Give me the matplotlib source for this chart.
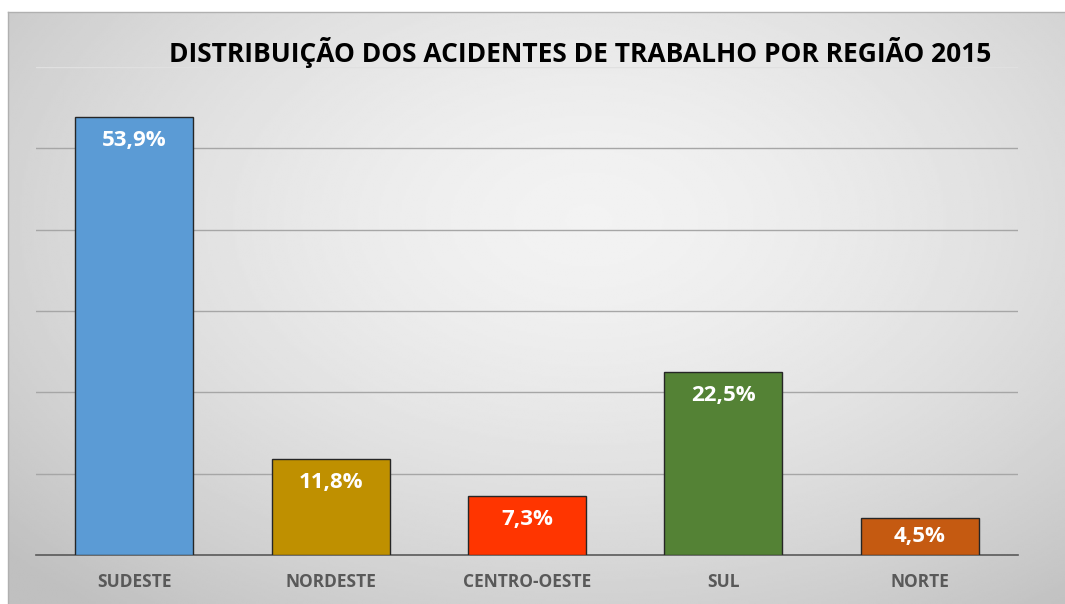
import matplotlib.pyplot as plt
import numpy as np

regions = ["SUDESTE", "NORDESTE", "CENTRO-OESTE", "SUL", "NORTE"]
shares = [53.9, 11.8, 7.3, 22.5, 4.5]
bar_colors = ["#5B9BD5", "#BF9000", "#FF3500", "#548235", "#C55A11"]
value_labels = ["53,9%", "11,8%", "7,3%", "22,5%", "4,5%"]

W, H = 1065, 604
fig = plt.figure(figsize=(W / 100, H / 100), dpi=100)
fig.patch.set_facecolor("white")
plt.rcParams["font.family"] = ["Open Sans", "DejaVu Sans"]

# gradient panel behind the chart
bg = fig.add_axes([8 / W, 0, 1 - 8 / W, 1 - 12 / H])
yy, xx = np.mgrid[0:1:300j, 0:1:500j]
r = np.sqrt(((xx - 0.55) / 0.75) ** 2 + ((yy - 0.35) / 0.85) ** 2)
shade = 0.95 - 0.2 * np.clip(r, 0, 1) ** 1.6
bg.imshow(shade, cmap="gray", vmin=0, vmax=1, aspect="auto",
          extent=[0, 1, 1, 0], interpolation="bilinear")
bg.set_xlim(0, 1)
bg.set_ylim(1, 0)
bg.set_xticks([])
bg.set_yticks([])
for side in ["right", "bottom"]:
    bg.spines[side].set_visible(False)
for side in ["top", "left"]:
    bg.spines[side].set_color("#b0b0b0")
    bg.spines[side].set_linewidth(1)

ax = fig.add_axes([36 / W, (H - 555) / H, (1018 - 36) / W, (555 - 67) / H])
ax.patch.set_alpha(0)
x = np.arange(len(regions))
ax.bar(x, shares, width=0.6, color=bar_colors, edgecolor="#262626",
       linewidth=1, zorder=3)
ax.set_xlim(-0.5, len(regions) - 0.5)
ax.set_ylim(0, 60)
ax.set_yticks(np.arange(10, 60, 10))
ax.yaxis.grid(True, color="#a6a6a6", linewidth=1, zorder=0)
ax.axhline(60, color="#e0e0e0", linewidth=1, zorder=0)
ax.tick_params(axis="y", length=0, labelleft=False)
ax.tick_params(axis="x", length=0, pad=13)
ax.set_xticks(x)
ax.set_xticklabels(regions, fontsize=12.5, fontweight="bold", color="#595959")
for side in ["top", "right", "left"]:
    ax.spines[side].set_visible(False)
ax.spines["bottom"].set_color("#595959")
ax.spines["bottom"].set_linewidth(1.2)

# points per data unit, to keep labels inside short bars
pt_per_unit = (555 - 67) / 60 * 0.72
for xi, v, lab in zip(x, shares, value_labels):
    off = min(17, v * pt_per_unit / 2)
    ax.annotate(lab, (xi, v), xytext=(0, -off), textcoords="offset points",
                ha="center", va="center", color="white", fontsize=16,
                fontweight="bold", zorder=4)

fig.text(580 / W, 1 - 52 / H, "DISTRIBUIÇÃO DOS ACIDENTES DE TRABALHO POR REGIÃO 2015",
         ha="center", va="center", fontsize=19, fontweight="bold", color="black")

fig.savefig("out.png", dpi=100)
